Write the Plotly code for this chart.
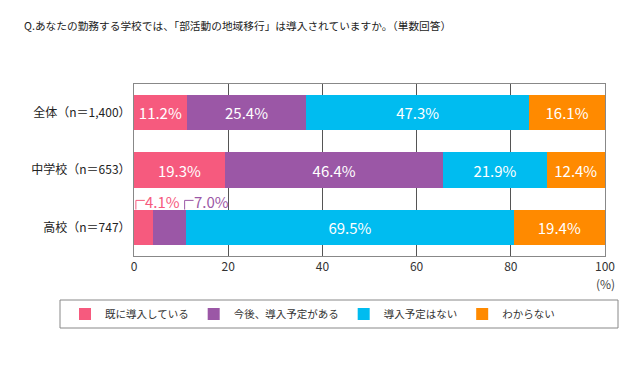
import plotly.graph_objects as go

title_text = "Q.あなたの勤務する学校では、「部活動の地域移行」は導入されていますか。（単数回答）"
categories = ["全体（n＝1,400）", "中学校（n＝653）", "高校（n＝747）"]
series_names = ["既に導入している", "今後、導入予定がある", "導入予定はない", "わからない"]
already = [11.2, 19.3, 4.1]
planned = [25.4, 46.4, 7.0]
not_planned = [47.3, 21.9, 69.5]
unknown = [16.1, 12.4, 19.4]
x_ticks = [0, 20, 40, 60, 80, 100]

colors = ["#F65A7E", "#9B57A6", "#00BCF0", "#FF8A00"]
FONT = "Noto Sans CJK JP"
BAR_W = 0.62
# page body has an 8px default margin; figure is sized/placed to compensate
O = 8
W, H = 640 - O, 368 - 2 * O
L, T = 134 - O, 84 - O
PW, PH = 471, 172
R, B = W - L - PW, H - T - PH

def px_x(p):  # page pixel -> paper x
    return (p - O - L) / PW

def px_y(p):  # page pixel -> paper y
    return 1 - (p - O - T) / PH

series_values = [already, planned, not_planned, unknown]
fig = go.Figure()
for name, vals, col in zip(series_names, series_values, colors):
    texts = [f"{v:.1f}%" if v >= 8 else "" for v in vals]
    fig.add_trace(go.Bar(
        y=categories, x=vals, name=name, orientation="h",
        marker=dict(color=col, line=dict(width=0)),
        width=BAR_W,
        text=texts, textposition="inside", insidetextanchor="middle",
        textfont=dict(color="white", size=15, family=FONT),
    ))

# outside callouts for small segments of 高校 row
row = 2
bar_top = row - BAR_W / 2
bracket_y = bar_top - 0.16
callouts = [
    (0 + 0.4, already[row], colors[0]),
    (already[row] + planned[row] - 0.35, planned[row], colors[1]),
]
for xb, val, col in callouts:
    fig.add_shape(type="line", xref="x", yref="y", x0=xb, x1=xb, y0=bar_top, y1=bracket_y,
                  line=dict(color=col, width=1))
    fig.add_shape(type="line", xref="x", yref="y", x0=xb, x1=xb + 1.9, y0=bracket_y, y1=bracket_y,
                  line=dict(color=col, width=1))
    fig.add_annotation(x=xb + 1.9, y=bracket_y, xref="x", yref="y", text=f"{val:.1f}%",
                       showarrow=False, xanchor="left", yanchor="middle",
                       font=dict(color=col, size=15, family=FONT), xshift=-2, yshift=-1)

fig.add_annotation(
    text=title_text, xref="paper", yref="paper", x=px_x(22), y=px_y(25),
    xanchor="left", yanchor="middle", showarrow=False,
    font=dict(size=10.7, family=FONT, color="#222"))
fig.add_annotation(
    text="(%)", xref="paper", yref="paper", x=1.0, y=px_y(283),
    xanchor="center", yanchor="middle", showarrow=False,
    font=dict(size=12, family=FONT, color="#444"))

# legend frame
fig.add_shape(type="rect", xref="paper", yref="paper",
              x0=px_x(60), x1=px_x(618), y0=px_y(300), y1=px_y(328),
              line=dict(color="#888", width=1), fillcolor="rgba(0,0,0,0)")

fig.update_layout(
    width=W, height=H,
    margin=dict(l=L, r=R, t=T, b=B, autoexpand=False),
    paper_bgcolor="white", plot_bgcolor="white",
    barmode="stack",
    showlegend=True,
    legend=dict(orientation="h", x=px_x(65), xanchor="left",
                y=px_y(314), yanchor="middle",
                font=dict(size=10.5, family=FONT, color="#333"), traceorder="normal",
                itemwidth=30, bgcolor="rgba(0,0,0,0)"),
    font=dict(family=FONT, color="#333"),
)

fig.update_xaxes(range=[0, 100], tickvals=x_ticks, showgrid=True, gridcolor="#555", gridwidth=1,
                 zeroline=False, showline=True, linecolor="#888", mirror=True, ticks="",
                 tickfont=dict(size=12, family=FONT, color="#333"), automargin=False,
                 layer="below traces")
fig.update_yaxes(categoryorder="array", categoryarray=categories, range=[2.5, -0.5],
                 showgrid=False, showline=True, linecolor="#888", mirror=True, ticks="",
                 tickfont=dict(size=12, family=FONT, color="#222"),
                 automargin=False)

fig.write_html("out.html")
